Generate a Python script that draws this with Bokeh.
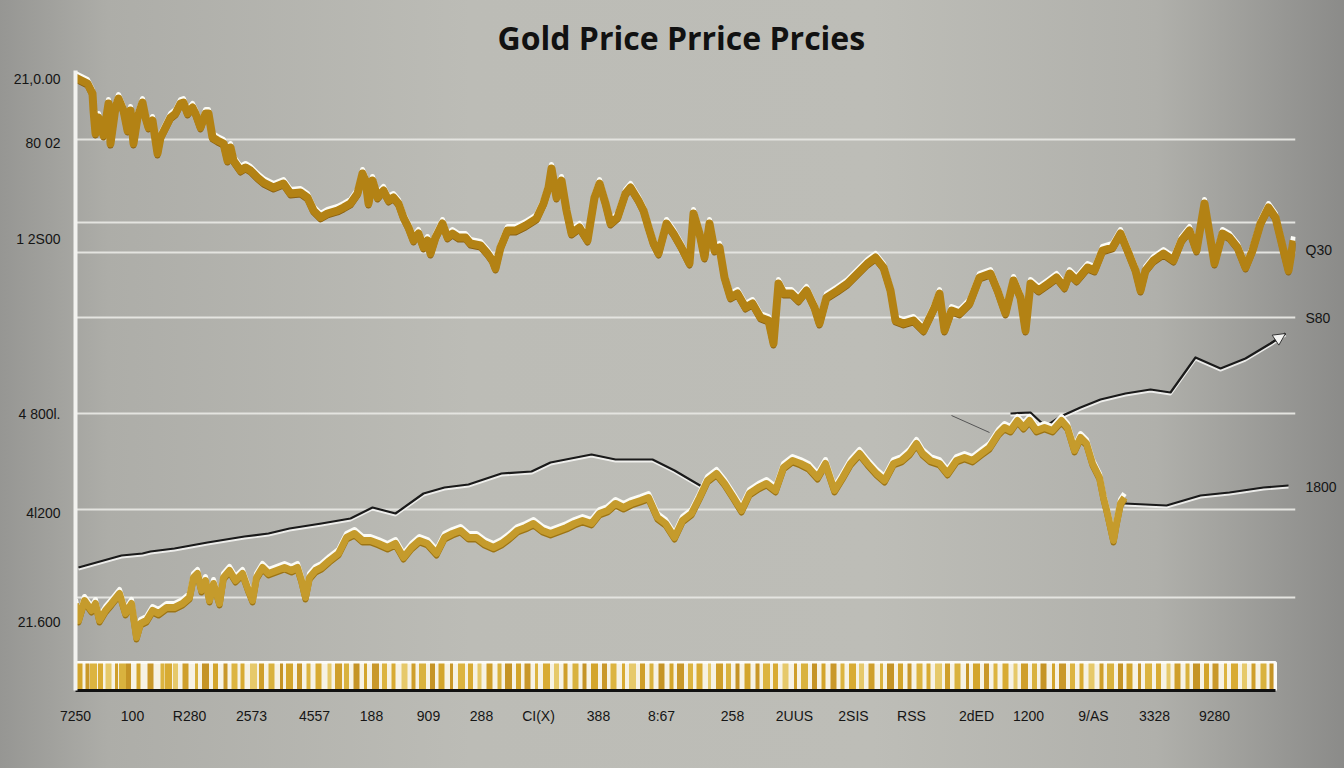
from bokeh.plotting import figure
from bokeh.models import (ColumnDataSource, Range1d, LinearAxis, FixedTicker, Arrow, NormalHead)
from bokeh.transform import dodge
from bokeh.embed import file_html
from bokeh.resources import INLINE

title_text = "Gold  Price Prrice Prcies"

# upper gold series (day index, price)
gold_a_x = [0, 12, 17, 18, 20, 23, 28, 33, 35, 40, 43, 48, 52, 55, 58, 62, 67, 70, 73, 77,
            82, 85, 90, 95, 100, 105, 108, 112, 117, 120, 125, 130, 133, 137, 142, 148, 152, 155, 158, 165,
            170, 175, 182, 188, 198, 208, 215, 225, 232, 238, 245, 252, 262, 268, 275, 282, 287, 290, 293, 297,
            302, 308, 313, 318, 323, 328, 333, 338, 343, 348, 352, 355, 360, 367, 372, 377, 383, 390, 395, 405,
            412, 417, 420, 425, 432, 440, 450, 461, 468, 473, 476, 481, 486, 491, 496, 504, 512, 519, 524, 530,
            535, 542, 550, 555, 563, 568, 573, 578, 583, 591, 598, 606, 614, 618, 624, 629, 634, 639, 644, 649,
            655, 662, 670, 677, 685, 693, 698, 703, 708, 716, 723, 731, 739, 744, 751, 762, 772, 782, 792, 800,
            808, 815, 820, 828, 838, 848, 859, 864, 869, 876, 884, 894, 904, 915, 922, 930, 938, 945, 950, 955,
            963, 973, 981, 989, 994, 1001, 1012, 1019, 1027, 1037, 1045, 1052, 1060, 1065, 1070, 1078, 1088, 1098, 1106, 1114,
            1121, 1129, 1134, 1139, 1147, 1154, 1162, 1170, 1177, 1185, 1193, 1200, 1208, 1213, 1218]
gold_a_y = [2452, 2428, 2388, 2320, 2228, 2292, 2220, 2348, 2188, 2332, 2368, 2320, 2240, 2320, 2188, 2292, 2352, 2292, 2252, 2280,
            2148, 2212, 2252, 2292, 2308, 2348, 2352, 2308, 2332, 2308, 2252, 2308, 2308, 2212, 2200, 2188, 2120, 2172, 2120, 2080,
            2092, 2080, 2052, 2032, 2012, 2028, 1988, 1992, 1972, 1920, 1892, 1908, 1920, 1932, 1948, 1988, 2068, 2040, 1948, 2040,
            1972, 2000, 1960, 1972, 1948, 1892, 1852, 1800, 1828, 1772, 1800, 1748, 1812, 1868, 1812, 1828, 1812, 1812, 1788, 1780,
            1748, 1720, 1688, 1772, 1840, 1840, 1860, 1888, 1948, 2012, 2088, 1972, 2040, 1920, 1828, 1852, 1800, 1972, 2028, 1948,
            1868, 1892, 1988, 2012, 1960, 1920, 1852, 1788, 1748, 1868, 1828, 1772, 1708, 1908, 1828, 1732, 1868, 1760, 1772, 1652,
            1572, 1588, 1532, 1548, 1492, 1480, 1388, 1628, 1588, 1588, 1560, 1600, 1532, 1468, 1572, 1600, 1628, 1668, 1708, 1732,
            1692, 1600, 1480, 1468, 1480, 1440, 1532, 1588, 1440, 1520, 1508, 1548, 1652, 1668, 1600, 1508, 1640, 1572, 1440, 1628,
            1600, 1628, 1652, 1612, 1668, 1640, 1692, 1680, 1760, 1772, 1828, 1760, 1680, 1600, 1680, 1720, 1748, 1720, 1800, 1840,
            1760, 1948, 1828, 1708, 1828, 1812, 1772, 1692, 1760, 1868, 1932, 1892, 1760, 1680, 1800]

# lower gold series
gold_c_x = [0, 3, 9, 16, 20, 24, 30, 36, 44, 50, 56, 61, 65, 71, 77, 83, 91, 99, 107, 114,
            118, 122, 126, 130, 134, 138, 144, 148, 154, 160, 167, 173, 177, 181, 187, 193, 201, 209, 216, 222,
            226, 230, 234, 240, 246, 254, 263, 271, 279, 287, 295, 303, 312, 320, 328, 336, 344, 352, 361, 369,
            377, 385, 393, 401, 409, 418, 426, 434, 442, 450, 458, 467, 475, 483, 491, 499, 507, 516, 524, 532,
            540, 548, 556, 565, 573, 582, 590, 599, 607, 616, 624, 632, 641, 649, 658, 666, 674, 683, 691, 700,
            708, 717, 725, 733, 742, 750, 759, 767, 775, 784, 792, 801, 809, 818, 826, 834, 841, 847, 855, 864,
            872, 881, 889, 897, 906, 914, 923, 929, 935, 942, 948, 954, 961, 969, 977, 986, 992, 999, 1005, 1011,
            1017, 1024, 1028, 1032, 1038, 1041, 1045, 1049]
gold_c_y = [348, 280, 360, 320, 348, 280, 320, 348, 388, 308, 348, 212, 268, 280, 320, 308, 332, 332, 348, 372,
            452, 468, 400, 440, 360, 428, 348, 452, 480, 440, 468, 400, 360, 452, 492, 468, 480, 492, 480, 492,
            440, 372, 452, 480, 492, 520, 548, 612, 628, 600, 600, 588, 572, 588, 532, 572, 600, 588, 548, 612,
            628, 640, 612, 612, 588, 572, 588, 612, 640, 652, 668, 640, 628, 640, 652, 668, 680, 668, 708, 720,
            748, 732, 748, 760, 772, 692, 668, 612, 680, 708, 772, 840, 868, 828, 772, 720, 788, 812, 828, 800,
            892, 920, 908, 892, 852, 908, 800, 852, 908, 948, 908, 868, 840, 908, 920, 948, 988, 948, 920, 908,
            868, 920, 932, 920, 948, 972, 1028, 1052, 1040, 1080, 1052, 1080, 1040, 1052, 1040, 1080, 1052, 960, 1012, 988,
            908, 852, 772, 708, 600, 668, 748, 772]

# black reference lines
black_main_x = [3, 46, 67, 75, 99, 132, 169, 193, 214, 246, 275, 297, 320, 348, 369, 393, 426, 456, 475, 516,
                540, 577, 599, 616, 628]
black_main_y = [492, 540, 548, 556, 568, 592, 616, 628, 648, 668, 688, 732, 708, 788, 812, 824, 868, 876, 912, 944,
                924, 924, 880, 840, 812]
black_up_x = [935, 955, 970, 985, 1005, 1025, 1050, 1075, 1095, 1120, 1145, 1170, 1195, 1210]
black_up_y = [1108, 1112, 1056, 1096, 1132, 1164, 1188, 1204, 1192, 1332, 1288, 1328, 1388, 1428]
black_low_x = [1049, 1091, 1125, 1154, 1188, 1213]
black_low_y = [748, 740, 780, 792, 812, 820]
thin_x = [876, 914]
thin_y = [1100, 1032]

# bottom barcode strip
strip_end = 1200
strip_top = 112
stripe_x = [4, 12, 18, 25, 33, 41, 47, 53, 63, 75, 87, 93, 100, 110, 121, 130, 140, 150, 159, 167,
            178, 186, 196, 206, 214, 224, 233, 243, 254, 263, 271, 281, 290, 300, 309, 318, 329, 338, 347, 357,
            366, 376, 386, 395, 404, 414, 424, 433, 443, 452, 461, 471, 481, 490, 500, 509, 519, 529, 538, 548,
            557, 567, 576, 586, 596, 605, 615, 624, 634, 644, 653, 662, 672, 682, 691, 700, 710, 720, 729, 739,
            748, 758, 767, 777, 786, 796, 806, 815, 825, 834, 844, 853, 863, 872, 882, 892, 901, 911, 920, 930,
            940, 949, 959, 968, 978, 987, 997, 1006, 1016, 1026, 1035, 1045, 1054, 1064, 1073, 1083, 1093, 1102,
            1112, 1121, 1131, 1140, 1150, 1159, 1169, 1178, 1188, 1196]

# axes
left_tick_values = [2448, 2192, 1808, 1108, 712, 276]
left_tick_labels = ["21,0.00", "80 02", "1 2S00", "4 800l.", "4l200", "21.600"]
right_tick_values = [1764, 1492, 816]
right_tick_labels = ["Q30", "S80", "1800"]
grid_levels = [2204, 1872, 1752, 1492, 1108, 724, 372]
bottom_tick_values = [0, 57, 114, 176, 239, 296, 353, 406, 463, 523, 586, 657, 719, 778, 836, 901, 953,
                      1018, 1079, 1139]
bottom_tick_labels = ["7250", "100", "R280", "2573", "4557", "188", "909", "288", "CI(X)", "388", "8:67",
                      "258", "2UUS", "2SIS", "RSS", "2dED", "1200", "9/AS", "3328", "9280"]

FONT = "Liberation Sans"

p = figure(width=1344, height=768, output_backend="svg", toolbar_location=None,
           x_range=Range1d(0, 1220), y_range=Range1d(0, 2480),
           min_border_left=75, min_border_right=49, min_border_top=70, min_border_bottom=78)
p.background_fill_alpha = 0
p.border_fill_alpha = 0
p.outline_line_color = None
p.styles = {"background": "linear-gradient(to right, #969693 0%, #adada8 8%, #bcbcb6 35%, #bdbdb7 65%, #b0b0ab 86%, #8b8b89 100%)"}

p.title.text = title_text
p.title.align = "center"
p.title.text_font = "Open Sans"
p.title.text_font_size = "32px"
p.title.text_font_style = "bold"
p.title.text_color = "#111111"
p.title.standoff = 24

# grid
p.xgrid.visible = False
p.ygrid.ticker = FixedTicker(ticks=grid_levels)
p.ygrid.grid_line_color = "#e4e4e0"
p.ygrid.grid_line_width = 2
p.ygrid.bounds = (0, 1205)

# left axis
ya = p.yaxis[0]
ya.ticker = FixedTicker(ticks=left_tick_values)
ya.major_label_overrides = {v: t for v, t in zip(left_tick_values, left_tick_labels)}
ya.axis_line_color = "#f2f2ef"
ya.axis_line_width = 4
ya.major_tick_line_color = None
ya.minor_tick_line_color = None
ya.major_label_standoff = 9
ya.major_label_text_font = FONT
ya.major_label_text_font_size = "14px"
ya.major_label_text_color = "#151515"

# right axis
ra = LinearAxis(ticker=FixedTicker(ticks=right_tick_values),
                major_label_overrides={v: t for v, t in zip(right_tick_values, right_tick_labels)})
ra.axis_line_color = None
ra.major_tick_line_color = None
ra.minor_tick_line_color = None
ra.major_label_standoff = 4
ra.major_label_text_font = FONT
ra.major_label_text_font_size = "14px"
ra.major_label_text_color = "#151515"
p.add_layout(ra, "right")

# bottom axis
xa = p.xaxis[0]
xa.ticker = FixedTicker(ticks=bottom_tick_values)
xa.major_label_overrides = {v: t for v, t in zip(bottom_tick_values, bottom_tick_labels)}
xa.axis_line_color = "#111111"
xa.axis_line_width = 3
xa.bounds = (0, strip_end)
xa.major_tick_line_color = None
xa.minor_tick_line_color = None
xa.major_label_standoff = 11
xa.major_label_text_font = FONT
xa.major_label_text_font_size = "14px"
xa.major_label_text_color = "#151515"

# strip
p.quad(left=[0], right=[strip_end], bottom=[0], top=[strip_top], fill_color="#f6f2e4",
       line_color="#fbfbf8", line_width=3)
stripe_colors = ["#d3a52c", "#c9982a", "#dcb440", "#d8ab33", "#e6c96a", "#cf9f2b", "#d9b23e", "#c59426"]
stripe_widths = [6, 4, 7, 5, 6, 3, 7, 5, 4]
src_s = ColumnDataSource(dict(
    x=stripe_x,
    w=[stripe_widths[i % len(stripe_widths)] for i in range(len(stripe_x))],
    c=[stripe_colors[i % len(stripe_colors)] for i in range(len(stripe_x))]))
p.vbar(x="x", width="w", bottom=6, top=strip_top - 4, fill_color="c", line_color=None, source=src_s)

# black lines
p.line(x=thin_x, y=thin_y, line_color="#555555", line_width=1)
for bx, by in [(black_main_x, black_main_y), (black_up_x, black_up_y), (black_low_x, black_low_y)]:
    s = ColumnDataSource(dict(x=bx, y=by))
    p.line(x="x", y=dodge("y", -7), source=s, line_color="#f4f4f2", line_width=2.5, line_alpha=0.9)
    p.line(x="x", y="y", source=s, line_color="#1a1a1a", line_width=2.2, line_join="round")
p.add_layout(Arrow(end=NormalHead(size=12, fill_color="#f4f4f2", line_color="#333333"),
                   x_start=black_up_x[-2], y_start=black_up_y[-2],
                   x_end=black_up_x[-1], y_end=black_up_y[-1],
                   line_color="#1a1a1a", line_width=2))

# gold series
for gx, gy, col, dark, w in [(gold_c_x, gold_c_y, "#c59b2c", "#9c7414", 7),
                             (gold_a_x, gold_a_y, "#b38214", "#8a6010", 8)]:
    s = ColumnDataSource(dict(x=gx, y=gy))
    p.line(x="x", y=dodge("y", 16), source=s, line_color="#fbfbf6", line_width=5, line_join="round")
    p.line(x="x", y=dodge("y", -8), source=s, line_color=dark, line_width=6, line_join="round")
    p.line(x="x", y="y", source=s, line_color=col, line_width=w, line_join="round")

open("out.html", "w").write(file_html(p, INLINE))
